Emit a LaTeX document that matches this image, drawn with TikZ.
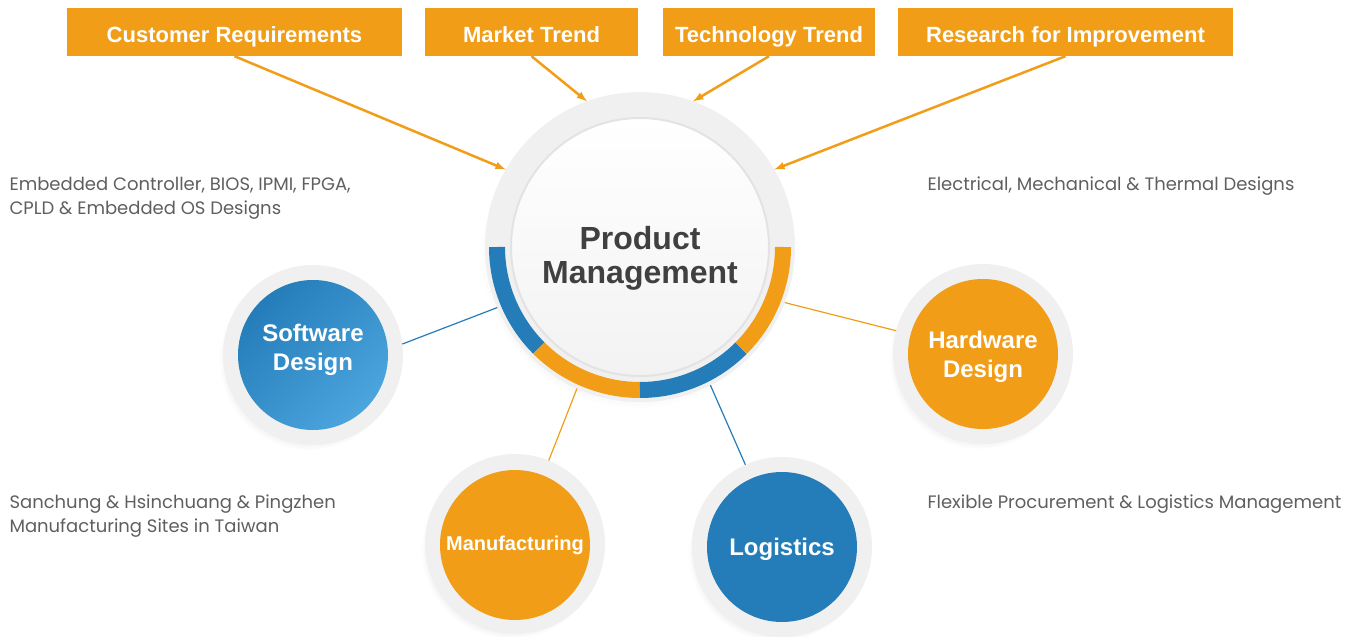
\documentclass[tikz,border=0pt]{standalone}
\usepackage{fontspec}
\setmainfont{Liberation Sans}
\newfontfamily\descfont{Poppins}
\usepackage{tikz}
\usetikzlibrary{arrows,shadows,positioning}

\definecolor{pmorange}{RGB}{241,157,24}
\definecolor{pmblue}{RGB}{36,124,185}
\definecolor{pmbluelight}{RGB}{76,165,221}
\definecolor{ringgray}{RGB}{240,240,240}
\definecolor{textgray}{RGB}{64,64,64}
\definecolor{descgray}{RGB}{95,95,95}

\begin{document}
\begin{tikzpicture}[x=1pt,y=-1pt,
    topbox/.style={rectangle, fill=pmorange, text=white, minimum height=48pt, inner sep=0pt,
      text height=20pt, text depth=0pt, font=\bfseries\fontsize{22}{26}\selectfont},
    ring/.style={circle, fill=ringgray, minimum size=180pt, inner sep=0pt, outer sep=0pt,
      circular drop shadow={shadow xshift=-4pt, shadow yshift=-5pt, shadow scale=1.0, opacity=0.18}},
    disc/.style={circle, minimum size=150pt, inner sep=0pt, text=white, align=center,
      font=\bfseries\fontsize{24}{29}\selectfont},
    desc/.style={anchor=west, align=left, text=descgray, font=\descfont\fontsize{18}{24}\selectfont},
    feed/.style={draw=pmorange, line width=2.5pt, -latex},
    link/.style={line width=1.2pt},
    seg/.style={line width=16pt}
  ]
  \useasboundingbox (0,0) rectangle (1355,637);

  % inputs on top
  \node[topbox, minimum width=335pt] at (234.5,32) (cust) {Customer Requirements};
  \node[topbox, minimum width=213pt] at (531.5,32) (market) {Market Trend};
  \node[topbox, minimum width=212pt] at (769,32) (tech) {Technology Trend};
  \node[topbox, minimum width=335pt] at (1065.5,32) (research) {Research for Improvement};

  % product management hub
  \node[circle, fill=ringgray, minimum size=310pt, inner sep=0pt, outer sep=0pt,
    circular drop shadow={shadow xshift=-4pt, shadow yshift=-6pt, shadow scale=1.0, opacity=0.15}]
    at (640,247) (pmring) {};
  \node[circle, minimum size=258pt, inner sep=0pt, top color=white, bottom color=gray!10,
    draw=gray!22, line width=2pt] at (640,247) (pm) {};
  \foreach \a/\b/\c in {180/225/pmblue, 225/270/pmorange, 270/315/pmblue, 315/360/pmorange}
    \draw[seg, \c] ([shift={(\a:143pt)}]pm.center) arc[start angle=\a, end angle=\b, radius=143pt];
  \node[align=center, text=textgray, font=\bfseries\fontsize{32}{34}\selectfont]
    at (640,258) (pmlabel) {Product\\Management};

  % four fields
  \node[ring] at (313,355) (swring) {};
  \node[disc, top color=pmblue, bottom color=pmbluelight, shading angle=45, text depth=15pt]
    at (313,355) (sw) {Software\\Design};
  \node[ring] at (983,354) (hwring) {};
  \node[disc, fill=pmorange, text depth=0pt] at (983,354) (hw) {Hardware\\Design};
  \node[ring] at (515,544) (mfring) {};
  \node[disc, fill=pmorange, font=\bfseries\fontsize{20}{24}\selectfont] at (515,545) (mf) {Manufacturing};
  \node[ring] at (782,547) (lgring) {};
  \node[disc, fill=pmblue, text depth=0pt] at (782,547) (lg) {Logistics};

  % descriptions
  \node[desc] at (6,198) (swtext) {Embedded Controller, BIOS, IPMI, FPGA,\\CPLD \& Embedded OS Designs};
  \node[desc] at (924,186) (hwtext) {Electrical, Mechanical \& Thermal Designs};
  \node[desc] at (6,516) (mftext) {Sanchung \& Hsinchuang \& Pingzhen\\Manufacturing Sites in Taiwan};
  \node[desc] at (924,504) (lgtext) {Flexible Procurement \& Logistics Management};

  % arrows into the hub
  \draw[feed] (cust.south) -- (pmring.150);
  \draw[feed] (market.south) -- (pmring.110);
  \draw[feed] (tech.south) -- (pmring.70);
  \draw[feed] (research.south) -- (pmring.30);

  % links to the fields
  \draw[link, pmblue] (pmring.203) -- (swring.7);
  \draw[link, pmorange] (pmring.339) -- (hwring.165);
  \draw[link, pmorange] (pmring.246) -- (mfring.68);
  \draw[link, pmblue] (pmring.297) -- (lgring.114);
\end{tikzpicture}
\end{document}
